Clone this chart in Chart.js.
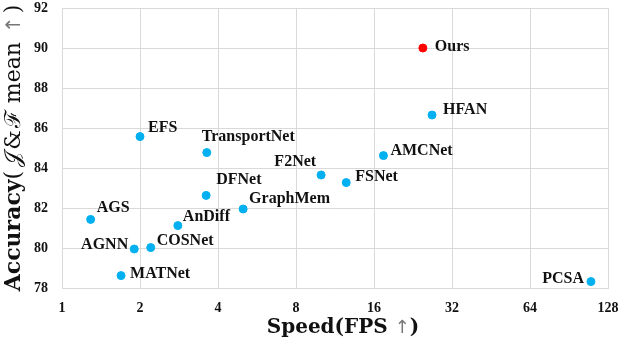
<!DOCTYPE html>
<html>
<head>
<meta charset="utf-8">
<script src="https://cdn.jsdelivr.net/npm/chart.js@4/dist/chart.umd.min.js"></script>
<style>
html,body{margin:0;padding:0;background:#fff;}
#wrap{width:620px;height:338px;position:relative;}
</style>
</head>
<body>
<div id="wrap"><canvas id="c" width="620" height="338"></canvas></div>
<script>
// ---- data ----
const methods = ['EFS','TransportNet','F2Net','FSNet','AMCNet','HFAN','DFNet','GraphMem','AGS','AnDiff','AGNN','COSNet','MATNet','PCSA'];
const fps     = [2.0, 3.62, 10.0, 12.5, 17.4, 26.8, 3.6, 5.0, 1.29, 2.8, 1.9, 2.2, 1.69, 110];
const acc     = [85.57, 84.77, 83.65, 83.27, 84.62, 86.65, 82.63, 81.95, 81.43, 81.12, 79.95, 80.02, 78.62, 78.32];
const oursName = ['Ours'];
const oursFps  = [24.7];
const oursAcc  = [90.0];
const xTicks = [1, 2, 4, 8, 16, 32, 64, 128];
const yTicks = [78, 80, 82, 84, 86, 88, 90, 92];

// label placement (style only)
const labelPos = {
  'Ours':{dx:12,dy:-1,al:'left'}, 'HFAN':{dx:11,dy:-5,al:'left'}, 'AMCNet':{dx:7,dy:-5,al:'left'},
  'EFS':{dx:8,dy:-9,al:'left'}, 'TransportNet':{dx:-5,dy:-16,al:'left'}, 'F2Net':{dx:-5,dy:-13,al:'right'},
  'FSNet':{dx:9,dy:-6,al:'left'}, 'DFNet':{dx:10,dy:-16,al:'left'}, 'GraphMem':{dx:6,dy:-10,al:'left'},
  'AGS':{dx:6,dy:-12,al:'left'}, 'AnDiff':{dx:5,dy:-9,al:'left'}, 'AGNN':{dx:-6,dy:-4,al:'right'},
  'COSNet':{dx:6,dy:-7,al:'left'}, 'MATNet':{dx:9,dy:-2,al:'left'}, 'PCSA':{dx:-7,dy:-3,al:'right'}
};

const labelPlugin = {
  id:'pointLabels',
  afterDatasetsDraw(chart){
    const ctx = chart.ctx;
    ctx.save();
    ctx.font = 'bold 16px "Liberation Serif"';
    ctx.fillStyle = '#111';
    ctx.textBaseline = 'middle';
    chart.data.datasets.forEach((ds, di) => {
      const meta = chart.getDatasetMeta(di);
      meta.data.forEach((el, i) => {
        const name = ds.names[i];
        const p = labelPos[name] || {dx:8,dy:-8,al:'left'};
        ctx.textAlign = p.al;
        ctx.fillText(name, el.x + p.dx, el.y + p.dy);
      });
    });
    ctx.restore();
  }
};

function drawSegments(ctx, segs, cx, cy){
  let total = 0;
  segs.forEach(s => { ctx.font = s.font; s.w = ctx.measureText(s.t).width + (s.gap || 0); total += s.w; });
  let x = cx - total/2;
  segs.forEach(s => {
    ctx.font = s.font; ctx.fillStyle = s.color || '#111';
    ctx.fillText(s.t, x + (s.pre || 0), cy);
    x += s.w;
  });
}

const titlePlugin = {
  id:'axisTitles',
  afterDraw(chart){
    const ctx = chart.ctx, a = chart.chartArea;
    ctx.save();
    ctx.textBaseline = 'alphabetic';
    ctx.textAlign = 'left';
    // x title
    drawSegments(ctx, [
      {t:'Speed(FPS ', font:'bold 20px "DejaVu Serif"'},
      {t:'\u2191', font:'18px "DejaVu Sans"', color:'#777'},
      {t:')', font:'bold 20px "DejaVu Serif"'}
    ], (a.left + a.right)/2 + 8, 333);
    // y title
    ctx.translate(20, (a.top + a.bottom)/2);
    ctx.rotate(-Math.PI/2);
    drawSegments(ctx, [
      {t:'Accuracy', font:'bold 22px "DejaVu Serif"'},
      {t:'(', font:'22px "DejaVu Serif"', gap:4},
      {t:'\u{1D4A5}', font:'22px "DejaVu Serif"', gap:2},
      {t:'&', font:'22px "DejaVu Serif"', gap:2},
      {t:'\u2131', font:'22px "DejaVu Serif"'},
      {t:' mean ', font:'22px "DejaVu Serif"', gap:2},
      {t:'\u2191', font:'20px "DejaVu Sans"', color:'#777', gap:3},
      {t:')', font:'22px "DejaVu Serif"'}
    ], 0, 0);
    ctx.restore();
  }
};

const gridColor = '#d9d9d9';
new Chart(document.getElementById('c'), {
  type:'scatter',
  data:{
    datasets:[
      {names: methods, data: methods.map((m,i)=>({x:fps[i], y:acc[i]})),
       backgroundColor:'#00b0f0', borderColor:'#00b0f0', pointRadius:4, pointHoverRadius:4},
      {names: oursName, data: oursName.map((m,i)=>({x:oursFps[i], y:oursAcc[i]})),
       backgroundColor:'#ff0000', borderColor:'#ff0000', pointRadius:4, pointHoverRadius:4}
    ]
  },
  options:{
    responsive:false, animation:false,
    layout:{padding:{top:0, right:0, left:0, bottom:0}},
    plugins:{legend:{display:false}, tooltip:{enabled:false}},
    scales:{
      x:{
        type:'logarithmic', min:1, max:128,
        afterBuildTicks(s){ s.ticks = xTicks.map(v=>({value:v})); },
        afterFit(s){ s.height = 50; s.paddingLeft = 0; s.paddingRight = 12; },
        grid:{color:gridColor, drawTicks:false},
        border:{color:gridColor},
        ticks:{padding:12, color:'#111', font:{family:'Liberation Serif', weight:'bold', size:14}, maxRotation:0,
               callback:(v)=>String(v)}
      },
      y:{
        min:78, max:92,
        afterBuildTicks(s){ s.ticks = yTicks.map(v=>({value:v})); },
        afterFit(s){ s.width = 62; s.paddingTop = 8; s.paddingBottom = 0; },
        grid:{color:gridColor, drawTicks:false},
        border:{color:gridColor},
        ticks:{padding:14, color:'#111', font:{family:'Liberation Serif', weight:'bold', size:14}}
      }
    }
  },
  plugins:[labelPlugin, titlePlugin]
});
</script>
</body>
</html>
